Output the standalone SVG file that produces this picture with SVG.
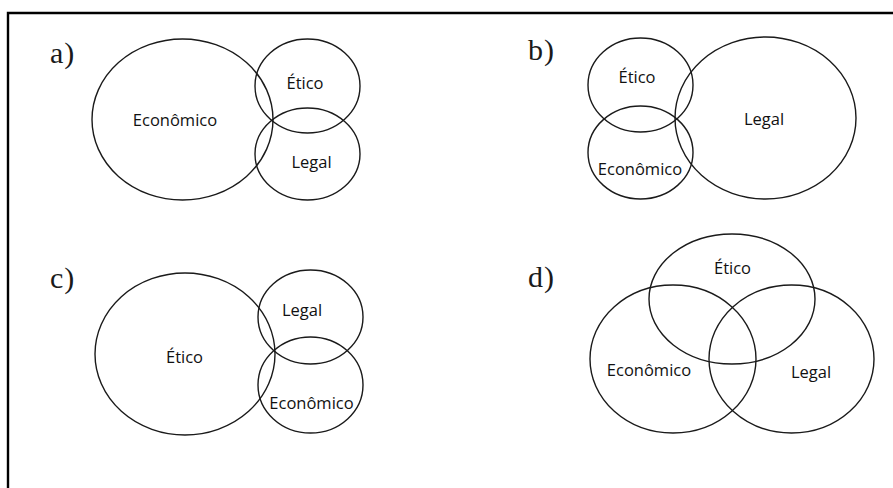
<svg xmlns="http://www.w3.org/2000/svg" width="893" height="488" viewBox="0 0 893 488">
<style>
.c{fill:none;stroke:#1a1a1a;stroke-width:1.4}
.t{font-family:"Open Sans","Liberation Sans",sans-serif;font-size:16.5px;fill:#111;text-anchor:middle}
.p{font-family:"Liberation Serif",serif;font-size:30px;fill:#1a1a1a;letter-spacing:1px}
</style>
<rect width="893" height="488" fill="#fff"/>
<path d="M8,488 V13 H893" fill="none" stroke="#000" stroke-width="2.4"/>
<g id="panel-a">
<text class="p" x="50" y="63">a)</text>
<g id="a-economico"><ellipse class="c" cx="182.5" cy="119.5" rx="90.5" ry="80.5"/><text class="t" x="175" y="126">Econômico</text></g>
<g id="a-etico"><ellipse class="c" cx="307.5" cy="86" rx="52.5" ry="47"/><text class="t" x="305" y="89">Ético</text></g>
<g id="a-legal"><ellipse class="c" cx="307.5" cy="154" rx="52.5" ry="46"/><text class="t" x="311.5" y="168">Legal</text></g>
</g>
<g id="panel-b">
<text class="p" x="528" y="60">b)</text>
<g id="b-etico"><ellipse class="c" cx="640.5" cy="85" rx="52.5" ry="47"/><text class="t" x="637" y="83">Ético</text></g>
<g id="b-economico"><ellipse class="c" cx="640.5" cy="152.5" rx="52.5" ry="46.5"/><text class="t" x="640" y="175">Econômico</text></g>
<g id="b-legal"><ellipse class="c" cx="765.5" cy="118" rx="90.5" ry="81"/><text class="t" x="764" y="125">Legal</text></g>
</g>
<g id="panel-c">
<text class="p" x="50" y="288">c)</text>
<g id="c-etico"><ellipse class="c" cx="185" cy="354" rx="90" ry="81"/><text class="t" x="184.5" y="363">Ético</text></g>
<g id="c-legal"><ellipse class="c" cx="310.5" cy="317" rx="52.5" ry="47"/><text class="t" x="302" y="316">Legal</text></g>
<g id="c-economico"><ellipse class="c" cx="310.5" cy="385" rx="52.5" ry="48"/><text class="t" x="311.5" y="409">Econômico</text></g>
</g>
<g id="panel-d">
<text class="p" x="528" y="287">d)</text>
<g id="d-etico"><ellipse class="c" cx="732" cy="299" rx="83" ry="65"/><text class="t" x="732.5" y="274">Ético</text></g>
<g id="d-economico"><ellipse class="c" cx="673" cy="359" rx="83" ry="74"/><text class="t" x="649" y="376">Econômico</text></g>
<g id="d-legal"><ellipse class="c" cx="791.5" cy="359" rx="82.5" ry="74"/><text class="t" x="811" y="378">Legal</text></g>
</g>
<g id="connectors"/>
</svg>
